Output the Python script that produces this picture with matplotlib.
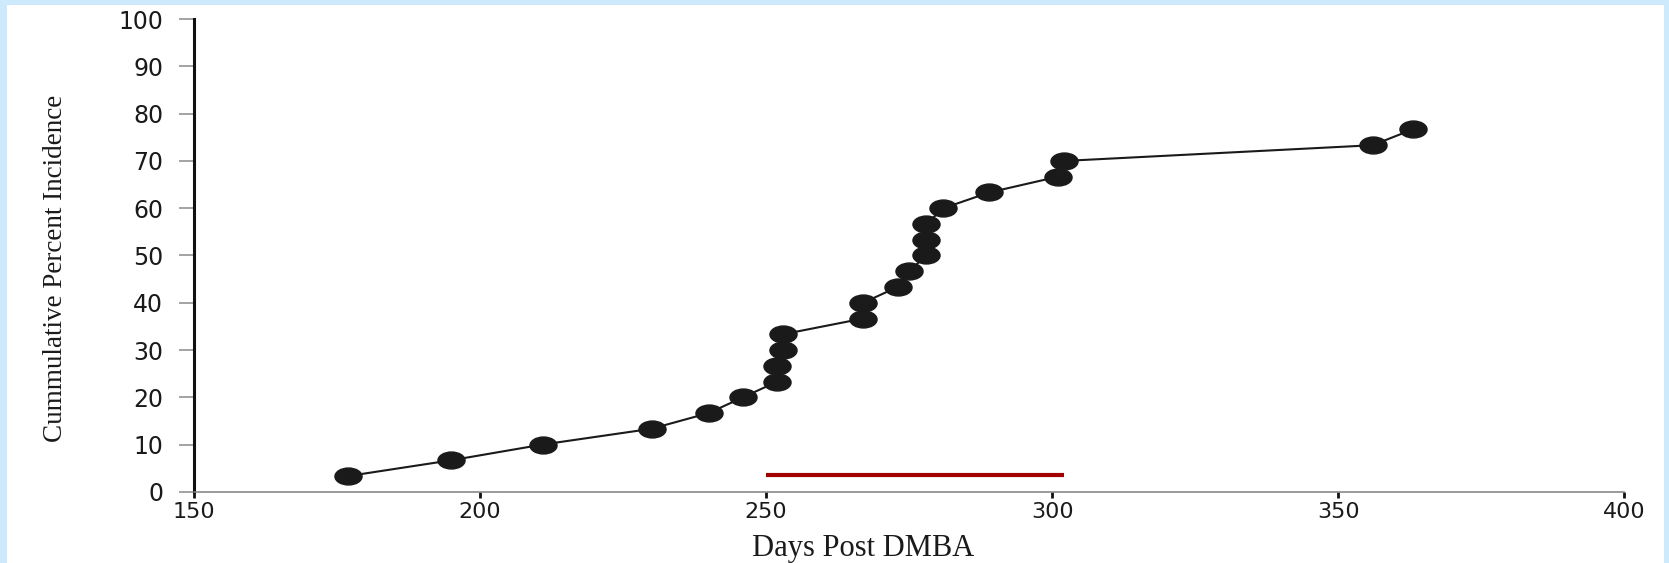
import numpy as np
import matplotlib.pyplot as plt
from matplotlib.path import Path
from matplotlib.patches import Rectangle
from matplotlib.transforms import Affine2D

# tumour onset day for each animal (n = 30) and cumulative incidence
days = [177, 195, 211, 230, 240, 246, 252, 252, 253, 253, 267, 267,
        273, 275, 278, 278, 278, 281, 289, 301, 302, 356, 363]
incidence = [100.0 * (i + 1) / 30 for i in range(len(days))]

# treatment window shown as a bar above the x axis
window_start = 250
window_end = 302
window_level = 3.5

x_ticks = [150, 200, 250, 300, 350, 400]
y_ticks = list(range(0, 101, 10))

fig = plt.figure(figsize=(16.69, 5.63), dpi=100)
fig.patch.set_facecolor('#cceafc')
fig.add_artist(Rectangle((7 / 1669, 0), (1664 - 7) / 1669, (563 - 5) / 563,
                         transform=fig.transFigure, facecolor='white',
                         edgecolor='none', zorder=0))

ax = fig.add_axes([0.1161, 0.1265, 0.8571, 0.8394])
ax.set_facecolor('none')

# flattened dot marker
ellipse = Path.unit_circle().transformed(Affine2D().scale(1.6, 1.0))

ax.plot(days, incidence, color='#1a1a1a', linewidth=1.5,
        marker=ellipse, markersize=19.5, markerfacecolor='#1a1a1a',
        markeredgecolor='#1a1a1a', zorder=3, clip_on=False)

ax.plot([window_start, window_end], [window_level, window_level],
        color='#a30000', linewidth=3, solid_capstyle='butt', zorder=2)

ax.set_xlim(150, 400)
ax.set_ylim(0, 100)
ax.set_xticks(x_ticks)
ax.set_yticks(y_ticks)

for side in ['top', 'right']:
    ax.spines[side].set_visible(False)
ax.spines['left'].set_linewidth(2.2)
ax.spines['left'].set_color('#111111')
ax.spines['bottom'].set_linewidth(1.1)
ax.spines['bottom'].set_color('#808080')

ax.tick_params(axis='y', direction='out', length=11, width=1.1, color='#8a8a8a',
               pad=11, labelsize=17, labelcolor='#1a1a1a')
ax.tick_params(axis='x', direction='out', length=4, width=2, color='#111111',
               pad=3, labelsize=16, labelcolor='#1a1a1a')
for lbl in ax.get_xticklabels() + ax.get_yticklabels():
    lbl.set_family('DejaVu Sans')

fig.text(55 / 1669, 1 - 268 / 563, 'Cummulative Percent Incidence',
         rotation=90, ha='center', va='center', fontsize=19.5,
         family='Liberation Serif', color='#1a1a1a')
fig.text(863 / 1669, 7 / 563, 'Days Post DMBA', ha='center', va='baseline',
         fontsize=22, family='Liberation Serif', color='#1a1a1a')

plt.savefig('out.png', dpi=100)
plt.close()
